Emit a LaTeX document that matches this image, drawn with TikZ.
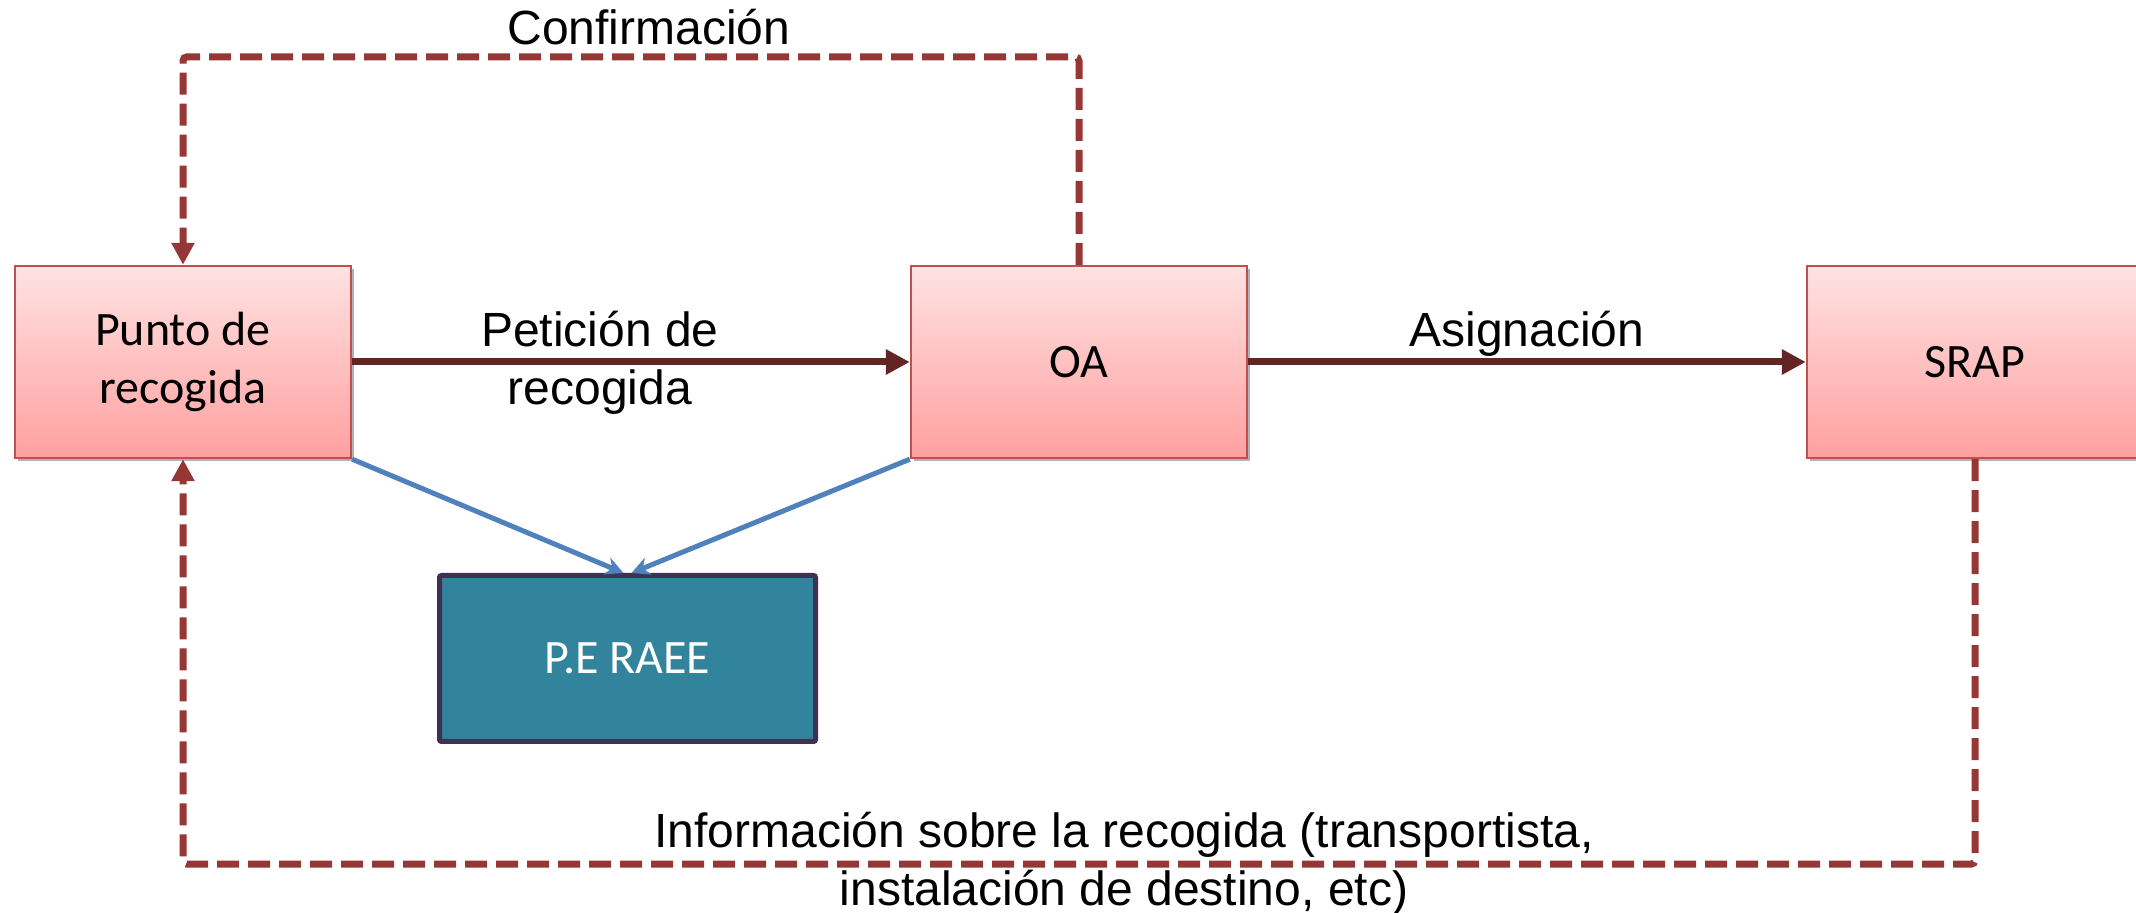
\documentclass[tikz,border=0pt]{standalone}
\usepackage{fontspec}
\setmainfont{Liberation Sans}
\newfontfamily\boxfont{Carlito}
\usepackage{tikz}
\usetikzlibrary{arrows.meta,shadows}

\definecolor{boxline}{RGB}{192,80,77}
\definecolor{boxtop}{RGB}{255,226,226}
\definecolor{boxbot}{RGB}{255,160,160}
\definecolor{flowred}{RGB}{99,37,35}
\definecolor{dashred}{RGB}{149,55,53}
\definecolor{peblue}{RGB}{79,129,189}
\definecolor{peteal}{RGB}{49,132,155}
\definecolor{peline}{RGB}{64,49,82}

\tikzset{
  actor/.style={draw=boxline, line width=1.2pt, top color=boxtop, bottom color=boxbot,
    minimum width=168pt, minimum height=96pt, inner sep=0pt, align=center,
    font=\boxfont\fontsize{24}{29}\selectfont,
    drop shadow={shadow xshift=1.5pt, shadow yshift=-1.5pt, opacity=0.3, fill=black}},
  flow/.style={draw=flowred, line width=3.5pt, -{Triangle[length=12pt,width=12pt]}},
  reply/.style={draw=dashred, line width=3.5pt, dash pattern=on 11pt off 4.5pt,
    rounded corners=2pt, -{Triangle[length=11pt,width=11pt]}},
  feed/.style={draw=peblue, line width=2.5pt, -{Stealth[length=9pt,width=9pt]}},
  lbl/.style={inner sep=0.75pt, align=center, font=\fontsize{24}{29}\selectfont}
}

\begin{document}
\begin{tikzpicture}[x=0.5pt,y=0.5pt,yscale=-1,xscale=1]
    \useasboundingbox (0,0) rectangle (2136,913);

    %Shape: Rectangle [Punto de recogida]
    \node [actor] (punto) at (183,362) {Punto de\\recogida};
    %Shape: Rectangle [OA]
    \node [actor] (oa) at (1079,362) {OA};
    %Shape: Rectangle [SRAP]
    \node [actor] (srap) at (1975,362) {SRAP};
    %Shape: Rectangle [P.E RAEE]
    \node [draw=peline, line width=2.5pt, fill=peteal, rounded corners=1pt,
      minimum width=188pt, minimum height=83pt, inner sep=0pt, text=white,
      font=\boxfont\fontsize{24}{29}\selectfont] (pe) at (627.5,658.5) {P.E RAEE};

    %Straight Lines
    \draw [flow] (punto.east) -- (oa.west);
    %Straight Lines
    \draw [flow] (oa.east) -- (srap.west);
    %Straight Lines
    \draw [feed] (punto.south east) -- ([xshift=-2pt]pe.north);
    %Straight Lines
    \draw [feed] (oa.south west) -- ([xshift=2pt]pe.north);
    %Dashed Lines
    \draw [reply] (oa.north) -- ++(0,-208) -| (punto.north);
    %Dashed Lines
    \draw [reply] (srap.south) -- ++(0,405) -| (punto.south);

    % Text Node
    \node [lbl] (tpet) at (600,363) {Petición de\\recogida};
    % Text Node
    \node [lbl] (tasig) at (1527,334) {Asignación};
    % Text Node
    \node [lbl] (tconf) at (649,27) {Confirmación};
    % Text Node
    \node [lbl] (tinfo) at (1124,864) {Información sobre la recogida (transportista,\\instalación de destino, etc)};

\end{tikzpicture}
\end{document}
